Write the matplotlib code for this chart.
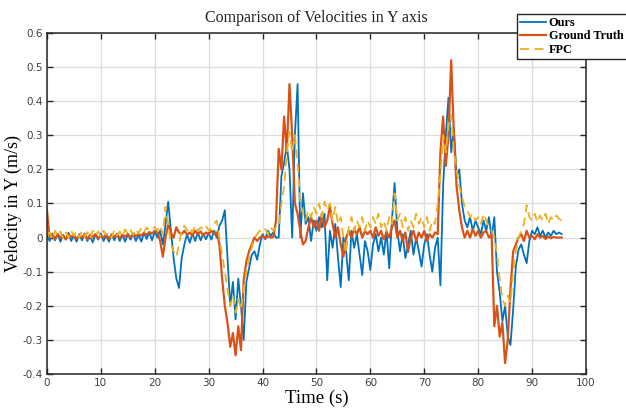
import numpy as np
import matplotlib
matplotlib.use('Agg')
import matplotlib.pyplot as plt

# Time axis (s), one sample every 0.5 s
t = np.arange(0, 96, 0.5)

# Velocity in Y (m/s)
ours = [
    0.005, -0.01, 0.012, -0.008, 0.01, -0.012, 0.008, -0.006, 0.014, -0.01,
    0.006, -0.012, 0.01, -0.008, 0.012, -0.01, 0.004, -0.014, 0.01, -0.006,
    0.012, -0.01, 0.006, -0.012, 0.01, -0.008, 0.012, -0.01, 0.008, -0.012,
    0.01, -0.006, 0.012, -0.01, 0.008, -0.012, 0.014, -0.004, 0.016, -0.008,
    0.018, 0.0, 0.02, -0.02, 0.04, 0.105, 0.02, -0.06, -0.12, -0.148,
    -0.06, -0.02, 0.01, -0.015, 0.012, -0.01, 0.015, -0.008, 0.012, -0.005,
    0.014, -0.006, 0.02, 0.0, 0.035, 0.05, 0.08, -0.06, -0.2, -0.13,
    -0.24, -0.12, -0.2, -0.30, -0.13, -0.09, -0.05, -0.04, -0.065, -0.02,
    0.01, -0.005, 0.02, 0.005, 0.015, 0.0, 0.0, 0.18, 0.22, 0.27,
    0.2, 0.0, 0.3, 0.45, 0.0, 0.13, 0.04, 0.06, -0.01, 0.05,
    0.02, 0.06, 0.03, 0.07, -0.125, 0.02, -0.03, 0.04, -0.06, -0.145,
    0.0, -0.04, -0.125, 0.02, -0.03, 0.01, -0.05, -0.11, -0.01, -0.04,
    -0.095, -0.02, 0.01, -0.04, 0.0, -0.05, 0.02, -0.09, 0.05, 0.16,
    0.02, -0.04, 0.01, -0.06, -0.02, 0.02, -0.05, 0.0, -0.04, -0.085,
    -0.02, 0.01, -0.05, -0.1, -0.03, 0.0, -0.14, 0.15, 0.3, 0.41,
    0.25, 0.32, 0.18, 0.2, 0.1, 0.05, 0.03, 0.06, 0.02, 0.05,
    0.03, 0.01, 0.05, 0.02, 0.06, 0.0, 0.06, -0.1, -0.16, -0.245,
    -0.2, -0.29, -0.315, -0.21, -0.085, -0.035, -0.02, -0.05, -0.075, -0.01,
    0.02, 0.01, 0.03, 0.005, 0.02, 0.0, 0.015, 0.005, 0.02, 0.01,
    0.015, 0.01,
]

ground_truth = [
    0.08, 0.0, 0.008, -0.004, 0.01, 0.0, 0.006, -0.005, 0.01, 0.002,
    0.008, -0.004, 0.006, 0.0, 0.01, -0.005, 0.008, 0.002, 0.01, -0.003,
    0.006, 0.0, 0.01, -0.004, 0.008, 0.002, 0.01, -0.002, 0.008, 0.003,
    0.01, 0.0, 0.012, 0.004, 0.01, 0.006, 0.014, 0.008, 0.016, 0.012,
    0.02, 0.015, -0.01, -0.056, 0.0, 0.04, 0.015, 0.0, 0.03, 0.015,
    0.01, 0.02, 0.008, 0.015, 0.005, 0.02, 0.01, 0.018, 0.006, 0.015,
    0.01, 0.02, 0.012, 0.015, -0.02, -0.12, -0.2, -0.25, -0.32, -0.28,
    -0.345, -0.26, -0.33, -0.125, -0.07, -0.04, -0.02, 0.0, -0.01, 0.0,
    0.005, -0.002, 0.004, 0.0, 0.002, 0.05, 0.26, 0.2, 0.355, 0.25,
    0.45, 0.3, 0.1, 0.07, 0.02, -0.02, -0.01, 0.03, 0.06, 0.03,
    0.05, 0.02, 0.07, 0.03, 0.05, 0.09, 0.04, 0.0, 0.03, -0.02,
    -0.056, 0.0, 0.02, 0.0, 0.025, 0.01, 0.03, 0.0, 0.02, 0.01,
    0.02, 0.0, 0.03, 0.005, 0.02, -0.005, 0.015, 0.0, 0.03, 0.05,
    0.0, 0.02, -0.01, 0.015, -0.042, 0.0, 0.02, -0.01, 0.015, 0.0,
    0.02, -0.01, 0.01, 0.0, 0.015, 0.01, 0.25, 0.355, 0.21, 0.3,
    0.52, 0.3, 0.15, 0.08, 0.03, 0.0, 0.02, 0.0, 0.025, 0.005,
    0.02, 0.0, 0.015, 0.02, 0.0, 0.01, -0.26, -0.2, -0.29, -0.25,
    -0.368, -0.3, -0.15, -0.04, -0.02, 0.0, 0.01, -0.01, 0.02, 0.0,
    0.005, -0.005, 0.01, 0.0, 0.005, -0.004, 0.003, -0.002, 0.002, 0.0,
    0.0, 0.0,
]

fpc = [
    0.01, 0.015, -0.005, 0.02, 0.005, 0.018, -0.002, 0.015, 0.0, 0.02,
    0.005, 0.018, 0.0, 0.02, 0.004, 0.016, -0.003, 0.02, 0.006, 0.018,
    0.002, 0.02, 0.008, 0.015, 0.0, 0.022, 0.006, 0.018, 0.004, 0.024,
    0.01, 0.022, 0.008, 0.025, 0.012, 0.028, 0.015, 0.03, 0.02, 0.026,
    0.03, 0.02, 0.035, 0.01, 0.09, 0.04, -0.02, -0.04, -0.056, -0.02,
    0.02, 0.035, 0.02, 0.03, 0.015, 0.035, 0.02, 0.03, 0.025, 0.035,
    0.02, 0.03, 0.04, 0.05, 0.0, -0.05, -0.1, -0.15, -0.2, -0.17,
    -0.22, -0.18, -0.21, -0.15, -0.1, -0.06, -0.03, 0.0, 0.01, 0.02,
    0.015, 0.025, 0.01, 0.03, 0.02, 0.03, 0.03, 0.1, 0.15, 0.25,
    0.31, 0.25, 0.3, 0.22, 0.1, 0.07, 0.05, 0.08, 0.06, 0.09,
    0.07, 0.1, 0.06, 0.105, 0.08, 0.1, 0.05, 0.09, 0.04, 0.06,
    0.0, -0.045, 0.03, 0.06, 0.02, 0.05, 0.03, 0.06, 0.02, 0.05,
    0.03, 0.06, 0.04, 0.07, 0.03, 0.05, 0.02, 0.06, 0.04, 0.13,
    0.05, 0.07, 0.03, 0.06, 0.02, 0.05, 0.03, 0.07, 0.04, 0.06,
    0.03, 0.06, 0.02, 0.05, 0.04, 0.1, 0.18, 0.3, 0.25, 0.33,
    0.36, 0.25, 0.2, 0.15, 0.12, 0.09, 0.08, 0.06, 0.07, 0.05,
    0.06, 0.04, 0.07, 0.05, 0.03, 0.02, 0.0, -0.05, -0.12, -0.18,
    -0.2, -0.17, -0.19, -0.1, -0.04, 0.0, 0.02, 0.04, 0.095, 0.06,
    0.05, 0.07, 0.045, 0.065, 0.05, 0.07, 0.04, 0.06, 0.05, 0.065,
    0.055, 0.05,
]

# Figure
fig = plt.figure(figsize=(6.26, 4.08), dpi=100)
ax = fig.add_axes([0.075, 0.0833, 0.861, 0.836])

ax.plot(t, ours, color='#0072BD', lw=1.3, label='Ours')
ax.plot(t, ground_truth, color='#D95319', lw=1.6, label='Ground Truth')
ax.plot(t, fpc, color='#EDB120', lw=1.3, ls=(0, (5, 3)), label='FPC')

ax.set_xlim(0, 100)
ax.set_ylim(-0.4, 0.6)
ax.set_xticks(np.arange(0, 101, 10))
ax.set_yticks(np.arange(-0.4, 0.61, 0.1))
ax.set_yticklabels(['-0.4', '-0.3', '-0.2', '-0.1', '0', '0.1', '0.2', '0.3', '0.4', '0.5', '0.6'])

# MATLAB-like box and ticks
ax.grid(True, color='#dcdcdc', lw=0.9)
ax.set_axisbelow(True)
ax.tick_params(direction='in', top=True, right=True, length=4, width=1,
               labelsize=7.5, labelcolor='#404040', color='#262626', pad=3)
for s in ax.spines.values():
    s.set_color('#262626')
    s.set_linewidth(1.1)

serif = ['Liberation Serif', 'DejaVu Serif']
ax.set_title('Comparison of Velocities in Y axis', family=serif, fontsize=11.5, pad=8, color='#222222')
ax.set_xlabel('Time (s)', family=serif, fontsize=13.5, labelpad=1)
ax.set_ylabel('Velocity in Y (m/s)', family=serif, fontsize=13, labelpad=0.5)

leg = fig.legend(loc='upper left', bbox_to_anchor=(0.826, 0.966),
                 prop={'family': serif, 'weight': 'bold', 'size': 8.8},
                 fancybox=False, framealpha=1, edgecolor='#262626',
                 handlelength=2.1, handletextpad=0.25, borderpad=0.25,
                 labelspacing=0.12, borderaxespad=0)
leg.get_frame().set_linewidth(1.0)

fig.savefig('out.png', dpi=100)
